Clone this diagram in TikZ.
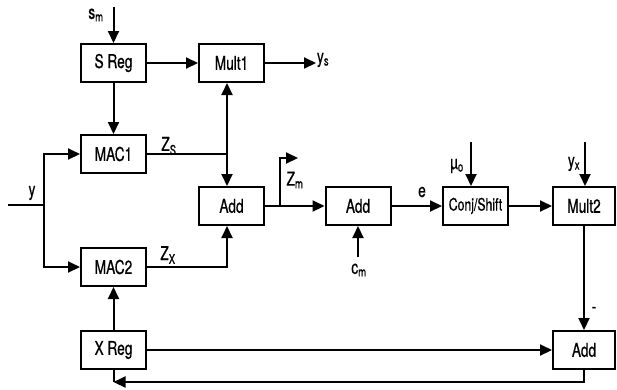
\documentclass[tikz,border=0pt]{standalone}
\usepackage{fontspec}
\setmainfont{TeX Gyre Heros}[FakeStretch=0.72,FakeBold=0.6]
\usepackage{tikz}
\usetikzlibrary{arrows.meta}

\begin{document}
\begin{tikzpicture}[x=1pt,y=-1pt,
  font=\fontsize{19}{21}\selectfont,
  line width=2pt,
  blk/.style={draw,minimum width=65pt,minimum height=38pt,inner sep=0pt},
  arr/.style={-{Triangle[length=12pt,width=11pt]}},
  lbl/.style={inner sep=1pt}]
\useasboundingbox (0,0) rectangle (617,389);
% blocks
\node[blk] (sreg) at (113.5,63) {S Reg};
\node[blk] (mult1) at (231.5,63) {Mult1};
\node[blk] (mac1) at (113.5,154) {MAC1};
\node[blk] (add1) at (231.5,206) {Add};
\node[blk] (mac2) at (113.5,267) {MAC2};
\node[blk] (xreg) at (113.5,350) {X Reg};
\node[blk] (add2) at (358,206) {Add};
\node[blk,font=\fontsize{17}{19}\selectfont] (conj) at (475.5,206) {Conj/Shift};
\node[blk,minimum width=62pt] (mult2) at (584,206) {Mult2};
\node[blk,minimum width=62pt] (add3) at (584,350) {Add};
% free ends and junctions
\coordinate (sm) at (113.5,7);
\coordinate (ys) at (316,63);
\coordinate (zsj) at (227,154);
\coordinate (yin) at (8,205);
\coordinate (yj) at (44,205);
\coordinate (zmj) at (280,206);
\coordinate (zm) at (298,158);
\coordinate (cm) at (358,257);
\coordinate (mu) at (471,142);
\coordinate (yx) at (585,142);
\coordinate (fb) at (113.5,382);
% labels
\node[lbl] (smlbl) at (96,15) {s\textsubscript{m}};
\node[lbl,anchor=west] (yslbl) at (315,60) {y\textsubscript{s}};
\node[lbl] (zslbl) at (169,146) {Z\textsubscript{S}};
\node[lbl] (ylbl) at (32,193) {y};
\node[lbl] (zxlbl) at (168,255) {Z\textsubscript{X}};
\node[lbl] (zmlbl) at (295,180) {Z\textsubscript{m}};
\node[lbl] (cmlbl) at (359,270) {c\textsubscript{m}};
\node[lbl] (elbl) at (422,192) {e};
\node[lbl] (mulbl) at (457,166) {µ\textsubscript{o}};
\node[lbl] (yxlbl) at (574,164) {y\textsubscript{x}};
\node[lbl] (minlbl) at (594,310) {-};
% connectors
\draw[arr] (sm) -- (sreg);
\draw[arr] (sreg) -- (mult1);
\draw[arr] (sreg) -- (mac1);
\draw[arr] (mult1) -- (ys);
\draw (mac1) -- (zsj);
\draw[{Triangle[length=12pt,width=11pt]}-{Triangle[length=12pt,width=11pt]}]
  (mult1.south -| zsj) -- (add1.north -| zsj);
\draw[arr] (mac2) -| (add1.south -| zsj);
\draw (yin) -- (yj);
\draw[arr] (yj) |- (mac1);
\draw[arr] (yj) |- (mac2);
\draw[arr] (add1) -- (add2);
\draw[arr] (zmj) |- (zm);
\draw[arr] (cm) -- (add2);
\draw[arr] (add2) -- (conj);
\draw[arr] (mu) -- (mu |- conj.north);
\draw[arr] (yx) -- (yx |- mult2.north);
\draw[arr] (conj) -- (mult2);
\draw[arr] (mult2) -- (add3);
\draw[arr] (xreg) -- (add3);
\draw[arr] (xreg) -- (mac2);
\draw[arr] (add3.south) |- (fb);
\draw (fb) -- (xreg.south);
\end{tikzpicture}
\end{document}
